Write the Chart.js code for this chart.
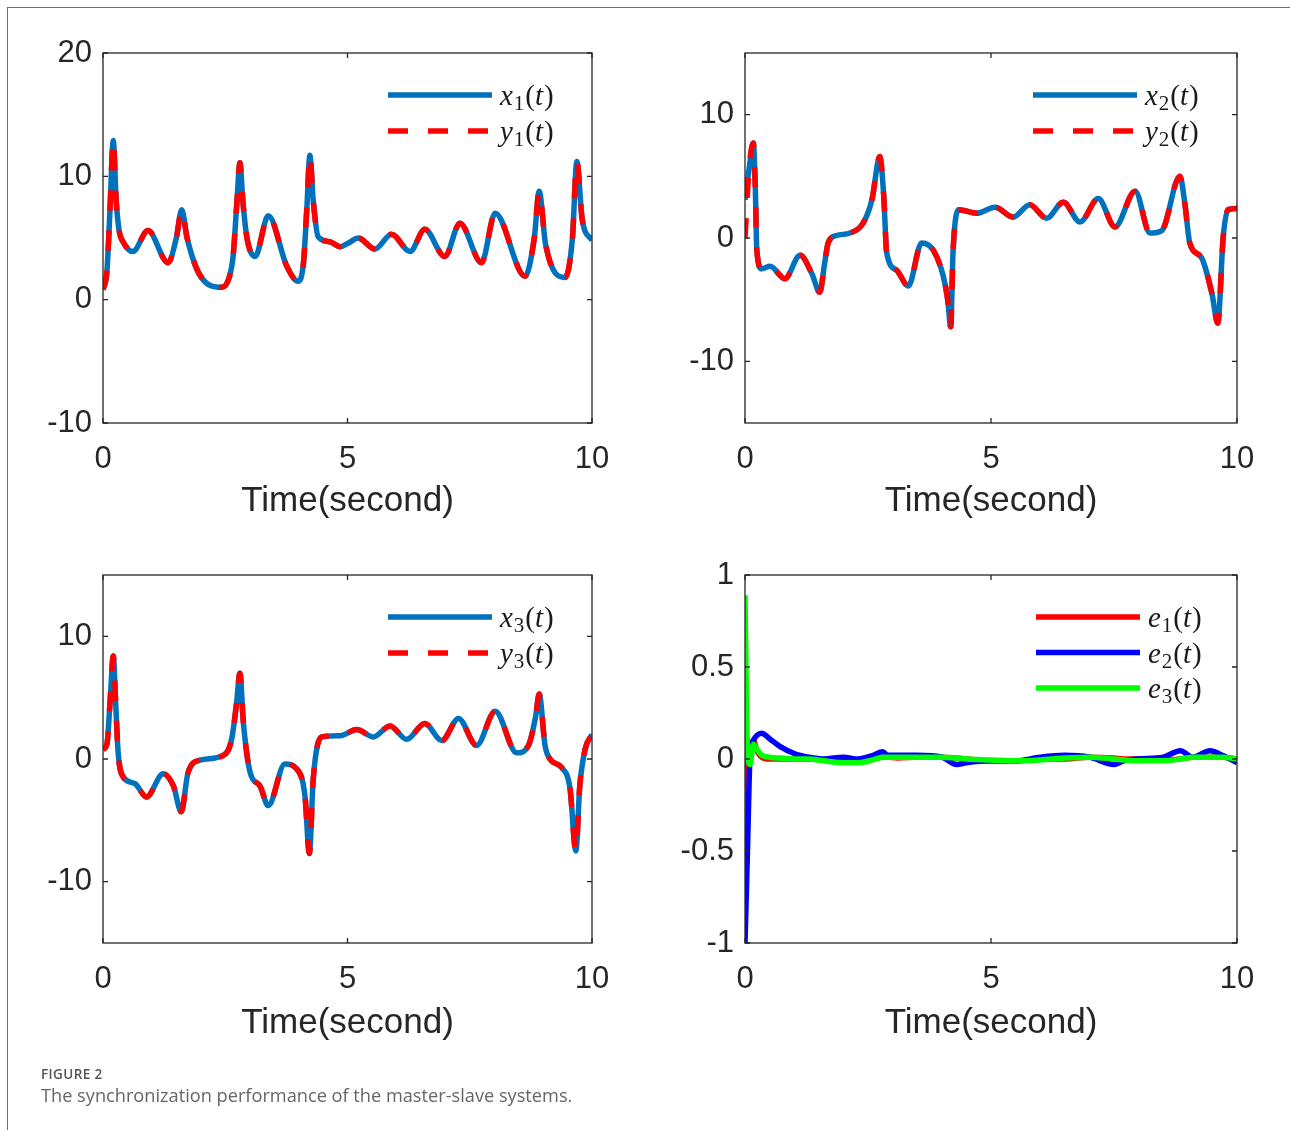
<!DOCTYPE html>
<html>
<head>
<meta charset="utf-8">
<script src="https://cdn.jsdelivr.net/npm/chart.js@4.4.1/dist/chart.umd.min.js"></script>
<style>
  html, body { margin: 0; padding: 0; background: #fff; }
  body { width: 1290px; height: 1130px; position: relative; overflow: hidden; }
  #frame { position: absolute; left: 7px; top: 7px; width: 1300px; height: 1200px;
           border-left: 1px solid #6e6e6e; border-top: 1px solid #6e6e6e; }
  canvas { position: absolute; }
  #c1 { left: 0px; top: 20px; }
  #c2 { left: 645px; top: 20px; }
  #c3 { left: 0px; top: 545px; }
  #c4 { left: 645px; top: 545px; }
  #figlabel { position: absolute; left: 41px; top: 1065px; font: 600 13.5px "Open Sans"; color: #555; letter-spacing: 0.4px; }
  #caption { position: absolute; left: 41px; top: 1083px; font: 18.2px "Open Sans"; color: #666; white-space: nowrap; }
</style>
</head>
<body>
<div id="frame"></div>
<canvas id="c1" width="640" height="540"></canvas>
<canvas id="c2" width="640" height="540"></canvas>
<canvas id="c3" width="640" height="540"></canvas>
<canvas id="c4" width="640" height="540"></canvas>
<div id="figlabel">FIGURE 2</div>
<div id="caption">The synchronization performance of the master-slave systems.</div>
<script>
// ---------------- data ----------------
const xTicks = [0, 5, 10];
const yTicks1 = [-10, 0, 10, 20];
const yTicks2 = [-10, 0, 10];
const yTicks3 = [-10, 0, 10];
const yTicks4 = [-1, -0.5, 0, 0.5, 1];
const xTitle = 'Time(second)';

// subplot 1: x1(t), y1(t)
const t1 = [0, 0.08, 0.14, 0.21, 0.27, 0.33, 0.41, 0.61, 0.92, 1.33, 1.50, 1.61, 1.72, 1.98, 2.43, 2.58, 2.66, 2.74, 2.80, 2.86, 2.94, 3.11, 3.38, 3.76, 3.99, 4.10, 4.17, 4.23, 4.30, 4.40, 4.64, 4.85, 5.02, 5.22, 5.56, 5.90, 6.28, 6.58, 6.99, 7.30, 7.74, 8.02, 8.63, 8.82, 8.92, 9.05, 9.45, 9.60, 9.69, 9.80, 10];
const x1 = [0.8, 2.3, 7.0, 12.9, 8.0, 5.6, 4.7, 3.9, 5.6, 3.0, 5.0, 7.3, 5.0, 2.0, 1.0, 1.8, 3.5, 8.0, 11.1, 8.0, 5.1, 3.5, 6.8, 2.7, 1.5, 3.0, 7.5, 11.7, 8.0, 5.1, 4.7, 4.3, 4.6, 5.0, 4.1, 5.3, 3.9, 5.7, 3.5, 6.2, 3.0, 7.0, 1.9, 5.0, 8.8, 4.5, 1.8, 5.0, 11.2, 6.5, 4.8];
const y1 = [0.8, 2.3, 7.0, 12.9, 8.0, 5.6, 4.7, 3.9, 5.6, 3.0, 5.0, 7.3, 5.0, 2.0, 1.0, 1.8, 3.5, 8.0, 11.1, 8.0, 5.1, 3.5, 6.8, 2.7, 1.5, 3.0, 7.5, 11.7, 8.0, 5.1, 4.7, 4.3, 4.6, 5.0, 4.1, 5.3, 3.9, 5.7, 3.5, 6.2, 3.0, 7.0, 1.9, 5.0, 8.8, 4.5, 1.8, 5.0, 11.2, 6.5, 4.8];

// subplot 2: x2(t), y2(t)
const t2 = [0, 0.08, 0.17, 0.21, 0.24, 0.34, 0.51, 0.81, 1.12, 1.36, 1.52, 1.62, 1.69, 1.86, 2.13, 2.40, 2.58, 2.74, 2.82, 2.88, 3.08, 3.32, 3.59, 3.83, 4.03, 4.12, 4.18, 4.23, 4.34, 4.71, 5.08, 5.45, 5.79, 6.13, 6.47, 6.81, 7.18, 7.52, 7.93, 8.23, 8.47, 8.84, 8.94, 9.04, 9.28, 9.49, 9.61, 9.72, 9.82, 10];
const x2 = [3.1, 5.5, 7.7, 4.0, -1.0, -2.5, -2.3, -3.3, -1.4, -2.9, -4.4, -2.0, -0.4, 0.2, 0.4, 1.2, 3.1, 6.6, 3.4, -1.2, -2.6, -3.9, -0.4, -1.0, -3.1, -5.0, -7.2, -1.0, 2.3, 2.0, 2.5, 1.7, 2.7, 1.6, 2.9, 1.3, 3.2, 0.9, 3.8, 0.4, 0.6, 5.0, 2.8, -0.4, -1.6, -4.5, -6.9, 0.1, 2.3, 2.4];
const y2 = [0.0, 5.5, 7.7, 4.0, -1.0, -2.5, -2.3, -3.3, -1.4, -2.9, -4.4, -2.0, -0.4, 0.2, 0.4, 1.2, 3.1, 6.6, 3.4, -1.2, -2.6, -3.9, -0.4, -1.0, -3.1, -5.0, -7.2, -1.0, 2.3, 2.0, 2.5, 1.7, 2.7, 1.6, 2.9, 1.3, 3.2, 0.9, 3.8, 0.4, 0.6, 5.0, 2.8, -0.4, -1.6, -4.5, -6.9, 0.1, 2.3, 2.4];

// subplot 3: x3(t), y3(t)
const t3 = [0, 0.08, 0.15, 0.21, 0.26, 0.31, 0.42, 0.65, 0.89, 1.23, 1.44, 1.60, 1.74, 1.98, 2.46, 2.63, 2.73, 2.80, 2.87, 3.01, 3.21, 3.38, 3.72, 3.96, 4.13, 4.22, 4.30, 4.47, 4.85, 5.19, 5.53, 5.87, 6.21, 6.58, 6.93, 7.27, 7.64, 8.02, 8.46, 8.70, 8.85, 8.92, 9.04, 9.14, 9.38, 9.55, 9.67, 9.75, 9.86, 10];
const x3 = [0.8, 1.2, 5.0, 8.4, 4.5, 0.5, -1.5, -2.0, -3.1, -1.2, -2.2, -4.3, -1.1, -0.1, 0.3, 1.6, 4.5, 7.0, 3.0, -1.1, -2.2, -3.8, -0.4, -0.8, -3.0, -7.7, -1.6, 1.8, 1.9, 2.4, 1.8, 2.7, 1.6, 2.9, 1.5, 3.3, 1.1, 3.9, 0.5, 1.1, 3.5, 5.3, 1.1, 0.0, -0.7, -2.4, -7.5, -2.2, 0.8, 2.0];
const y3 = [0.8, 1.2, 5.0, 8.4, 4.5, 0.5, -1.5, -2.0, -3.1, -1.2, -2.2, -4.3, -1.1, -0.1, 0.3, 1.6, 4.5, 7.0, 3.0, -1.1, -2.2, -3.8, -0.4, -0.8, -3.0, -7.7, -1.6, 1.8, 1.9, 2.4, 1.8, 2.7, 1.6, 2.9, 1.5, 3.3, 1.1, 3.9, 0.5, 1.1, 3.5, 5.3, 1.1, 0.0, -0.7, -2.4, -7.5, -2.2, 0.8, 2.0];

// subplot 4: errors
const tE = [0, 0.05, 0.1, 0.17, 0.25, 0.34, 0.5, 0.7, 1.0, 1.3, 1.6, 2.0, 2.3, 2.6, 2.8, 2.9, 3.1, 3.5, 4.0, 4.3, 4.5, 5.0, 5.5, 6.0, 6.5, 7.0, 7.5, 7.7, 8.0, 8.5, 8.85, 9.1, 9.45, 9.7, 10];
const e1 = [-0.49, -0.05, 0.06, 0.1, 0.04, 0.01, 0.0, 0.0, 0.0, 0.0, -0.005, -0.01, -0.005, 0.0, 0.01, 0.01, 0.005, 0.01, 0.01, 0.005, 0.0, -0.01, -0.01, 0.0, 0.0, 0.01, 0.005, 0.0, 0.0, -0.005, 0.0, 0.01, 0.01, 0.01, 0.0];
const e2 = [-1.0, -0.5, 0.0, 0.1, 0.13, 0.14, 0.11, 0.07, 0.03, 0.01, 0.0, 0.01, 0.0, 0.02, 0.04, 0.02, 0.02, 0.02, 0.01, -0.03, -0.02, -0.01, -0.01, 0.01, 0.02, 0.01, -0.03, -0.01, 0.0, 0.01, 0.045, 0.01, 0.045, 0.02, -0.02];
const e3 = [0.89, 0.05, -0.03, 0.08, 0.05, 0.02, 0.01, 0.005, 0.0, 0.0, -0.01, -0.02, -0.02, -0.005, 0.01, 0.01, 0.01, 0.01, 0.01, 0.005, 0.0, -0.005, -0.01, -0.005, 0.005, 0.01, 0.0, -0.005, -0.01, -0.01, 0.0, 0.01, 0.01, 0.01, 0.0];

// ---------------- styling ----------------
const AX = '#262626';
const TICK_FONT = { family: '"Liberation Sans", Arial, sans-serif', size: 31, lineHeight: 1 };
const TITLE_FONT = { family: '"Liberation Sans", Arial, sans-serif', size: 35, lineHeight: 1 };
const LW = 5.5;

const pts = (ts, vs) => ts.map((t, i) => ({ x: t, y: vs[i] }));

const boxPlugin = {
  id: 'matlabBox',
  afterDatasetsDraw(chart) {
    const { ctx, chartArea: a, scales } = chart;
    ctx.save();
    ctx.strokeStyle = AX;
    ctx.lineWidth = 1.3;
    ctx.strokeRect(a.left, a.top, a.right - a.left, a.bottom - a.top);
    const L = 5;
    ctx.beginPath();
    scales.x.ticks.forEach(t => {
      const p = scales.x.getPixelForValue(t.value);
      ctx.moveTo(p, a.bottom); ctx.lineTo(p, a.bottom - L);
      ctx.moveTo(p, a.top); ctx.lineTo(p, a.top + L);
    });
    scales.y.ticks.forEach(t => {
      const p = scales.y.getPixelForValue(t.value);
      ctx.moveTo(a.left, p); ctx.lineTo(a.left + L, p);
      ctx.moveTo(a.right, p); ctx.lineTo(a.right - L, p);
    });
    ctx.stroke();
    ctx.restore();
  },
  afterDraw(chart) {
    const opts = chart.options.plugins.matlabBox || {};
    const { ctx, chartArea: a } = chart;
    const ds = chart.data.datasets;
    ctx.save();
    ds.forEach((d, i) => {
      const yRow = a.top + opts.firstRow + i * opts.rowGap;
      const x1 = a.right - opts.lineRight - opts.lineLen;
      const x2 = a.right - opts.lineRight;
      ctx.beginPath();
      ctx.strokeStyle = d.borderColor;
      ctx.lineWidth = d.borderWidth;
      ctx.setLineDash(d.borderDash || []);
      ctx.moveTo(x1, yRow); ctx.lineTo(x2, yRow);
      ctx.stroke();
      ctx.setLineDash([]);
      drawMath(ctx, d.label, x2 + 8, yRow + 10);
    });
    ctx.restore();
  }
};

function drawMath(ctx, label, x, y) {
  // label like "x1(t)": italic letter, subscript digit, upright parens, italic t
  const serif = '"Liberation Serif", "DejaVu Serif", serif';
  const S = 29;
  ctx.fillStyle = '#1a1a1a';
  ctx.textBaseline = 'alphabetic';
  ctx.textAlign = 'left';
  let cx = x;
  const put = (txt, font, dy, extra) => {
    ctx.font = font;
    ctx.fillText(txt, cx, y + dy);
    cx += ctx.measureText(txt).width + (extra || 0);
  };
  put(label[0], `italic ${S}px ${serif}`, 0, 1);
  put(label[1], `${Math.round(S * 0.72)}px ${serif}`, 5, 1);
  put('(', `${S}px ${serif}`, 0, 0);
  put(label.slice(3, label.length - 1), `italic ${S}px ${serif}`, 0, 1);
  put(')', `${S}px ${serif}`, 0, 0);
}

function makeChart(id, datasets, yMin, yMax, yTicks, cfg) {
  return new Chart(document.getElementById(id), {
    type: 'line',
    data: { datasets },
    plugins: [boxPlugin],
    options: {
      responsive: false,
      animation: false,
      events: [],
      layout: { padding: { left: 0, top: cfg.padTop, right: cfg.padRight, bottom: 0 } },
      elements: {
        point: { radius: 0 },
        line: { cubicInterpolationMode: 'monotone', borderCapStyle: 'butt', borderJoinStyle: 'round' }
      },
      plugins: {
        legend: { display: false },
        tooltip: { enabled: false },
        matlabBox: cfg.legend
      },
      scales: {
        x: {
          type: 'linear', min: 0, max: 10,
          grid: { display: false, drawTicks: false },
          border: { display: false },
          afterBuildTicks: s => { s.ticks = xTicks.map(v => ({ value: v })); },
          afterFit: s => { s.height = cfg.xHeight; },
          ticks: { font: TICK_FONT, color: AX, padding: 21, maxRotation: 0, autoSkip: false, callback: v => String(v) },
          title: { display: true, text: xTitle, font: TITLE_FONT, color: AX, padding: { top: 0, bottom: cfg.titlePad } }
        },
        y: {
          type: 'linear', min: yMin, max: yMax,
          grid: { display: false, drawTicks: false },
          border: { display: false },
          afterBuildTicks: s => { s.ticks = yTicks.map(v => ({ value: v })); },
          afterFit: s => { s.width = cfg.yWidth; },
          ticks: { font: TICK_FONT, color: AX, padding: 11, autoSkip: false, callback: v => String(v) }
        }
      }
    }
  });
}

const BLUE = '#0072BD', RED = '#FF0000';
const legXY = { firstRow: 42, rowGap: 36, lineLen: 104, lineRight: 100 };
const legE = { firstRow: 42, rowGap: 35.5, lineLen: 104, lineRight: 97 };

function pair(tArr, xs, ys, n) {
  return [
    { label: 'x' + n + '(t)', data: pts(tArr, xs), borderColor: BLUE, borderWidth: LW, order: 2 },
    { label: 'y' + n + '(t)', data: pts(tArr, ys), borderColor: RED, borderWidth: LW, borderDash: [20, 20], order: 1 }
  ];
}

makeChart('c1', pair(t1, x1, y1, 1), -10, 20, yTicks1,
  { padTop: 33, padRight: 48, xHeight: 137, yWidth: 103, titlePad: 41, legend: legXY });
makeChart('c2', pair(t2, x2, y2, 2), -15, 15, yTicks2,
  { padTop: 33, padRight: 48, xHeight: 137, yWidth: 100, titlePad: 41, legend: legXY });
makeChart('c3', pair(t3, x3, y3, 3), -15, 15, yTicks3,
  { padTop: 30, padRight: 48, xHeight: 142, yWidth: 103, titlePad: 44, legend: legXY });
makeChart('c4', [
    { label: 'e1(t)', data: pts(tE, e1), borderColor: '#FF0000', borderWidth: LW, order: 3 },
    { label: 'e2(t)', data: pts(tE, e2), borderColor: '#0000FF', borderWidth: LW, order: 2 },
    { label: 'e3(t)', data: pts(tE, e3), borderColor: '#00FF00', borderWidth: LW, order: 1 }
  ], -1, 1, yTicks4,
  { padTop: 30, padRight: 48, xHeight: 142, yWidth: 100, titlePad: 44, legend: legE });
</script>
</body>
</html>
